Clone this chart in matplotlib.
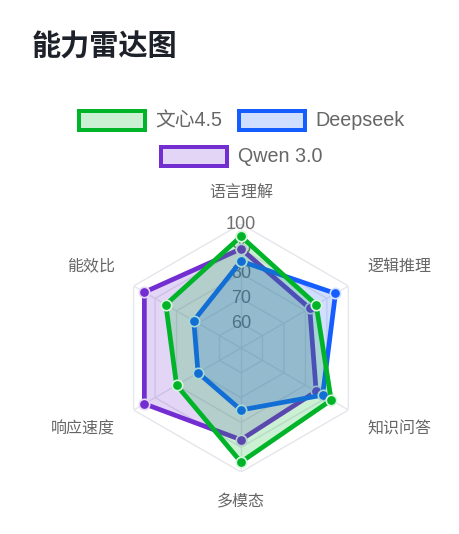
import numpy as np
import matplotlib.pyplot as plt
from matplotlib.patches import Rectangle

plt.rcParams['font.family'] = ['Liberation Sans', 'Noto Sans CJK SC']

categories = ['语言理解', '逻辑推理', '知识问答', '多模态', '响应速度', '能效比']
series_names = ['文心4.5', 'Deepseek', 'Qwen 3.0']
wenxin = [95, 85, 92, 96, 80, 85]
deepseek = [85, 94, 88, 75, 70, 72]
qwen = [90, 82, 85, 87, 95, 95]
tick_values = [60, 70, 80, 90, 100]
r_min, r_max = 50, 100

colors = ['#00b42a', '#165dff', '#722ed1']
edge_cols = ['#d6f5dd', '#d4e2ff', '#e6d8f7']
values = [wenxin, deepseek, qwen]

fig = plt.figure(figsize=(4.59, 5.34), dpi=100)
fig.patch.set_facecolor('white')

ax = fig.add_axes([0.2549, 0.1161, 0.5403, 0.4644], projection='polar')
ax.set_theta_offset(np.pi / 2)
ax.set_theta_direction(-1)
ax.set_ylim(r_min, r_max)
ax.grid(False)
ax.spines['polar'].set_visible(False)
ax.set_xticks([])
ax.set_yticks([])
ax.patch.set_alpha(0)

n = len(categories)
angles = np.arange(n) * 2 * np.pi / n
closed = np.append(angles, angles[0])

# hexagon grid
grid_col = '#e5e6eb'
for t in tick_values:
    ax.plot(closed, [t] * (n + 1), color=grid_col, lw=1, zorder=1)
for a in angles:
    ax.plot([a, a], [r_min, r_max], color=grid_col, lw=1, zorder=1)

# tick labels
for t in tick_values:
    ax.text(0, t, str(t), ha='center', va='center', fontsize=13,
            color='#707070', zorder=2)

# data (first series on top, like chart.js)
for i in reversed(range(len(values))):
    v = np.append(values[i], values[i][0])
    z = 10 - i
    ax.fill(closed, v, color=colors[i], alpha=0.2, lw=0, zorder=3 + z)
    ax.plot(closed, v, color=colors[i], lw=3.4, zorder=4 + z,
            marker='o', markersize=7.5, markerfacecolor=colors[i],
            markeredgecolor=edge_cols[i], markeredgewidth=1.2)

# category labels
offsets = [(0, 32, 'center'), (19, 20, 'left'), (19, -19, 'left'),
           (0, -30, 'center'), (-19, -19, 'right'), (-19, 20, 'right')]
for a, lab, (dx, dy, ha) in zip(angles, categories, offsets):
    ax.annotate(lab, xy=(a, r_max), xytext=(dx, dy), textcoords='offset pixels',
                ha=ha, va='center', fontsize=11.5, color='#666666',
                annotation_clip=False)

# title
fig.text(32 / 459, 1 - 48 / 534, '能力雷达图', fontsize=21, fontweight='bold',
         color='#1d2129', ha='left', va='center')

# legend
W, H = 459, 534
legend_items = [(77, 109, 155), (237, 109, 315), (159, 145, 238)]
for (bx, by, tx), name, c in zip(legend_items, series_names, colors):
    rect = Rectangle((bx / W, 1 - (by + 23) / H), 70 / W, 23 / H,
                     transform=fig.transFigure, facecolor=c, edgecolor='none')
    fig.patches.append(rect)
    inner = Rectangle(((bx + 4) / W, 1 - (by + 19) / H), 62 / W, 15 / H,
                      transform=fig.transFigure, facecolor='white',
                      edgecolor='none')
    fig.patches.append(inner)
    tint = Rectangle(((bx + 4) / W, 1 - (by + 19) / H), 62 / W, 15 / H,
                     transform=fig.transFigure, facecolor=c, alpha=0.2,
                     edgecolor='none')
    fig.patches.append(tint)
    fig.text(tx / W, 1 - (by + 12) / H, name, fontsize=14.2, color='#666666',
             ha='left', va='center')

fig.savefig('out.png', dpi=100)
